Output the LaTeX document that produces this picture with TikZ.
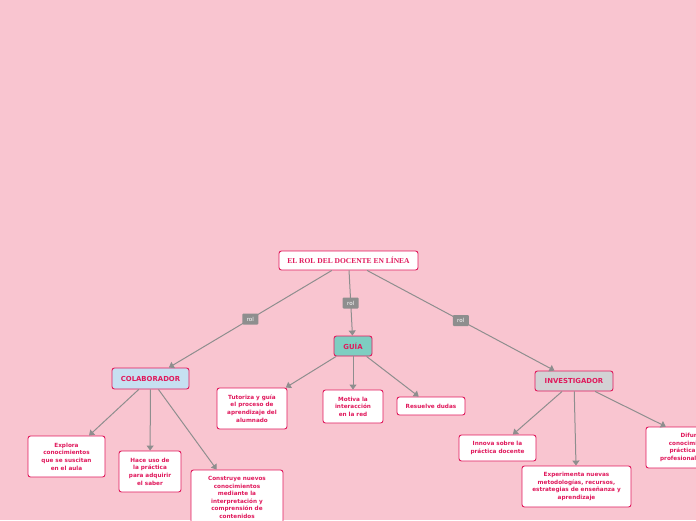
\documentclass[tikz,border=0pt]{standalone}
\usepackage{fontspec}
\usetikzlibrary{arrows.meta}
\newfontfamily\cajafont{DejaVu Sans}[BoldFont={DejaVu Sans Bold}]
\newfontfamily\titulofont{Liberation Serif}
\definecolor{fondo}{HTML}{F9C5D0}
\definecolor{rosa}{HTML}{E0195C}
\definecolor{gris}{HTML}{8E8E8E}
\definecolor{verdeagua}{HTML}{7ECEC1}
\definecolor{celeste}{HTML}{C6E0F1}
\definecolor{grisclaro}{HTML}{D2D2D4}
\tikzset{
  concepto/.style={draw=rosa, fill=white, line width=0.9pt, rounded corners=2.5pt,
    text=rosa, align=center, inner sep=1pt, font=\cajafont\bfseries\fontsize{5.7}{7.6}\selectfont},
  rol/.style={concepto, font=\cajafont\bfseries\fontsize{6.9}{8}\selectfont},
  rolbox/.style={fill=gris, rounded corners=1pt, text=white, inner sep=0pt,
    minimum width=16pt, minimum height=11pt, font=\cajafont\fontsize{5.6}{6}\selectfont},
  conector/.style={draw=gris, line width=1pt, -{Triangle[length=5pt,width=7pt]}}
}
\begin{document}
\begin{tikzpicture}[x=1pt, y=-1pt]
  \useasboundingbox (0,0) rectangle (696,520);
  \fill[fondo] (0,0) rectangle (696,520);
  \clip (0,0) rectangle (696,520);

  % Idea central
  \node[concepto, minimum width=139pt, minimum height=19pt,
        font=\titulofont\bfseries\fontsize{7.5}{8}\selectfont] (root) at (348.5,260.5) {EL ROL DEL DOCENTE EN LÍNEA};

  % Roles
  \node[rol, fill=celeste, minimum width=77pt, minimum height=21pt] (colab) at (150.5,378.5) {COLABORADOR};
  \node[rol, fill=verdeagua, minimum width=38pt, minimum height=20pt] (guia) at (353,346) {GUÍA};
  \node[rol, fill=grisclaro, minimum width=78pt, minimum height=20pt] (invest) at (574,381) {INVESTIGADOR};

  % Colaborador
  \node[concepto, minimum width=77pt, minimum height=41pt] (explora) at (66.5,456.5) {Explora\\conocimientos\\que se suscitan\\en el aula};
  \node[concepto, minimum width=62pt, minimum height=41pt] (haceuso) at (150,471.5) {Hace uso de\\la práctica\\para adquirir\\el saber};
  \node[concepto, minimum width=92pt, minimum height=55pt] (construye) at (237,497.5) {Construye nuevos\\conocimientos\\mediante la\\interpretación y\\comprensión de\\contenidos};

  % Guía
  \node[concepto, minimum width=70pt, minimum height=41pt] (tutoriza) at (252,408.5) {Tutoriza y guía\\el proceso de\\aprendizaje del\\alumnado};
  \node[concepto, minimum width=60pt, minimum height=33pt] (motiva) at (353,406.5) {Motiva la\\interacción\\en la red};
  \node[concepto, minimum width=68pt, minimum height=18pt] (resuelve) at (431,406) {Resuelve dudas};

  % Investigador
  \node[concepto, minimum width=77pt, minimum height=26pt] (innova) at (497.5,448) {Innova sobre la\\práctica docente};
  \node[concepto, minimum width=109pt, minimum height=41pt] (experimenta) at (576.5,486.5) {Experimenta nuevas\\metodologías, recursos,\\estrategias de enseñanza y\\aprendizaje};
  \node[concepto, minimum width=124pt, minimum height=41pt] (difunde) at (708,447.5) {Difunde el nuevo\\conocimiento y la buena\\práctica para los demás\\profesionales de la educación};

  % Conectores
  \draw[conector] (root) -- node[rolbox] {rol} (colab);
  \draw[conector] (root) -- node[rolbox] {rol} (guia);
  \draw[conector] (root) -- node[rolbox] {rol} (invest);

  \draw[conector] (colab) -- (explora);
  \draw[conector] (colab) -- (haceuso);
  \draw[conector] (colab) -- (construye);

  \draw[conector] (guia) -- (tutoriza);
  \draw[conector] (guia) -- (motiva);
  \draw[conector] (guia) -- (resuelve);

  \draw[conector] (invest) -- (innova);
  \draw[conector] (invest) -- (experimenta);
  \draw[conector] (invest) -- (difunde);
\end{tikzpicture}
\end{document}
